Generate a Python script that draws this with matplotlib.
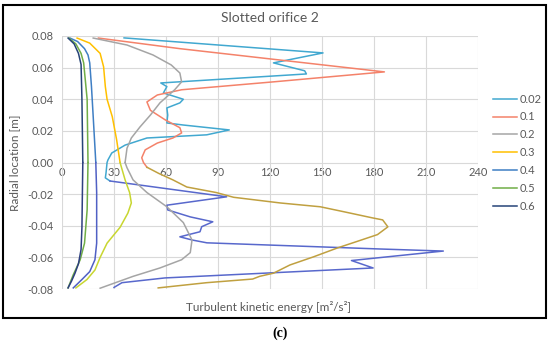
import numpy as np
import matplotlib
matplotlib.use('Agg')
import matplotlib.pyplot as plt
from matplotlib.patches import Rectangle

plt.rcParams['font.family'] = ['Lato', 'DejaVu Sans']

# === data ===
labels = ['0.02', '0.1', '0.2', '0.3', '0.4', '0.5', '0.6']

y_002 = [0.0788, 0.0693, 0.063, 0.058, 0.056, 0.0503, 0.048, 0.044, 0.040, 0.0377, 0.0345,
         0.030, 0.025, 0.0237, 0.0206, 0.0175, 0.0155, 0.011, 0.006, 0.0016, 0.0, -0.0066,
         -0.0097, -0.0117, -0.0217, -0.027, -0.030, -0.0344, -0.0375, -0.0406, -0.0438,
         -0.047, -0.049, -0.0508, -0.0547, -0.056, -0.062, -0.0667, -0.073, -0.076, -0.079]
tke_002 = [35.8, 150.6, 122, 140, 141, 57, 60.5, 58.5, 70, 68, 60.5,
           61, 60.5, 70, 96.5, 83.5, 49, 36.4, 28.7, 26.5, 26, 25.4,
           25, 27.7, 95, 60.5, 61, 74, 87, 80.6, 79.6,
           68, 75, 83.6, 183.5, 220, 167, 179.5, 59.4, 34.6, 30]

y_01 = [0.0787, 0.072, 0.0573, 0.051, 0.046, 0.0427, 0.0383, 0.033, 0.027, 0.022, 0.0187,
        0.0155, 0.0123, 0.008, 0.003, 0.0, -0.003, -0.007, -0.011, -0.0155, -0.019, -0.022,
        -0.0256, -0.028, -0.031, -0.035, -0.0363, -0.0407, -0.0456, -0.050, -0.054,
        -0.0597, -0.0648, -0.070, -0.072, -0.0737, -0.076, -0.0793]
tke_01 = [21, 68, 186, 122, 69, 55, 49, 51, 59.5, 68, 69,
          64, 55, 48, 46, 47, 49, 56, 64, 72, 89, 99,
          126, 149, 162, 179, 185, 188, 182, 170, 159,
          145, 131.5, 122, 114, 110, 83.5, 55.5]

y_02 = [0.0787, 0.0743, 0.068, 0.0617, 0.0566, 0.051, 0.046, 0.0377, 0.030, 0.0225, 0.0155,
        0.009, 0.0, -0.0033, -0.011, -0.019, -0.028, -0.038, -0.049, -0.057, -0.0615,
        -0.0667, -0.072, -0.0795]
tke_02 = [18, 37.5, 52.5, 63, 68, 69, 65, 56.5, 51, 45, 40,
          37.5, 36.4, 37.5, 41, 49, 60.5, 70, 75, 74, 69,
          56.5, 41, 22]

y_03 = [0.0787, 0.0755, 0.069, 0.0605, 0.048, 0.040, 0.029, 0.0145, 0.0, -0.011, -0.019,
        -0.0256, -0.032, -0.041, -0.051, -0.060, -0.068, -0.074, -0.0793]
tke_03 = [8.7, 16, 22, 24, 25, 26, 29, 31.5, 33.5, 36.4, 39,
          40, 38, 33.5, 26, 22, 19, 14.4, 8]

y_04 = [0.0787, 0.0765, 0.072, 0.068, 0.063, 0.048, 0.029, 0.0, -0.019, -0.051, -0.0615,
        -0.069, -0.074, -0.0793]
tke_04 = [4.6, 9, 13, 15, 16, 17, 18, 19.5, 20, 20, 19,
          16, 11.5, 6.5]

y_05 = [0.0787, 0.075, 0.069, 0.063, 0.040, 0.0, -0.030, -0.051, -0.0615, -0.071, -0.0793]
tke_05 = [4, 8, 11, 12.5, 14.5, 15, 14.5, 13, 10.5, 6.5, 3.5]

y_06 = [0.0787, 0.075, 0.069, 0.062, 0.040, 0.0, -0.041, -0.055, -0.064, -0.070, -0.075, -0.0793]
tke_06 = [3.5, 7, 9.5, 11, 11.5, 12, 11.5, 11, 9.5, 7.5, 5.5, 3.5]

series_y = [y_002, y_01, y_02, y_03, y_04, y_05, y_06]
series_x = [tke_002, tke_01, tke_02, tke_03, tke_04, tke_05, tke_06]

# upper-half colour, lower-half colour (the reference shifts hue below the centre)
col_top = ['#41A8D0', '#F4826A', '#A5A5A5', '#FFC000', '#3F7FC4', '#70AD47', '#264478']
col_bot = ['#5868CC', '#C0A040', '#A5A5A5', '#C8D630', '#5060C4', '#70AD47', '#2E3F80']
y_split = [-0.0117, -0.003, 0.0, 0.0, 0.0, 0.0, 0.0]

# === figure ===
fig = plt.figure(figsize=(5.5, 3.42), dpi=100)
ax = fig.add_axes([62/550, 1-289/342, (478-62)/550, (289-36)/342])

for i in range(len(labels)):
    ys = np.array(series_y[i])
    xs = np.array(series_x[i])
    up = ys >= y_split[i]
    lo = ys <= y_split[i]
    ax.plot(xs[up], ys[up], color=col_top[i], lw=1.1, label=labels[i])
    ax.plot(xs[lo], ys[lo], color=col_bot[i], lw=1.1)

ax.set_xlim(0, 240)
ax.set_ylim(-0.08, 0.08)
ax.set_xticks(np.arange(0, 241, 30))
ax.set_yticks(np.arange(-0.08, 0.081, 0.02))
ax.set_yticklabels([f"{v:.2f}" for v in np.arange(-0.08, 0.081, 0.02)])
ax.grid(True, color='#D9D9D9', lw=0.8)
ax.set_axisbelow(True)
for s in ax.spines.values():
    s.set_visible(False)
ax.tick_params(length=0, labelsize=8, colors='#595959', pad=6)
ax.tick_params(axis='x', labelbottom=False)

# x tick labels sit under the zero line like in Excel
for v in np.arange(0, 241, 30):
    ax.text(v, -0.0065, f"{v:d}", ha='center', va='center', fontsize=8, color='#595959',
            zorder=0)

ax.set_title('Slotted orifice 2', fontsize=10, color='#595959', pad=10)
fig.text(15/550, 1-163/342, 'Radial location [m]', rotation=90, ha='center', va='center',
         fontsize=8.5, color='#595959')
fig.text(268/550, 1-307/342, 'Turbulent kinetic energy [m²/s²]', ha='center', va='center',
         fontsize=8.5, color='#595959')

leg = ax.legend(loc='upper left', bbox_to_anchor=(1.025, 0.79), frameon=False, fontsize=8,
                handlelength=2.2, handletextpad=0.2, labelspacing=0.62, borderaxespad=0)
for t in leg.get_texts():
    t.set_color('#595959')

# outer frame and panel tag
fig.patches.append(Rectangle((3/550, 1-318/342), 543/550, 313/342, transform=fig.transFigure,
                             fill=False, ec='black', lw=1.5))
fig.text(280/550, 1-333/342, '(c)', ha='center', va='center', fontsize=10, fontweight='bold',
         family=['Liberation Serif', 'DejaVu Serif'])

fig.savefig('out.png', dpi=100)
